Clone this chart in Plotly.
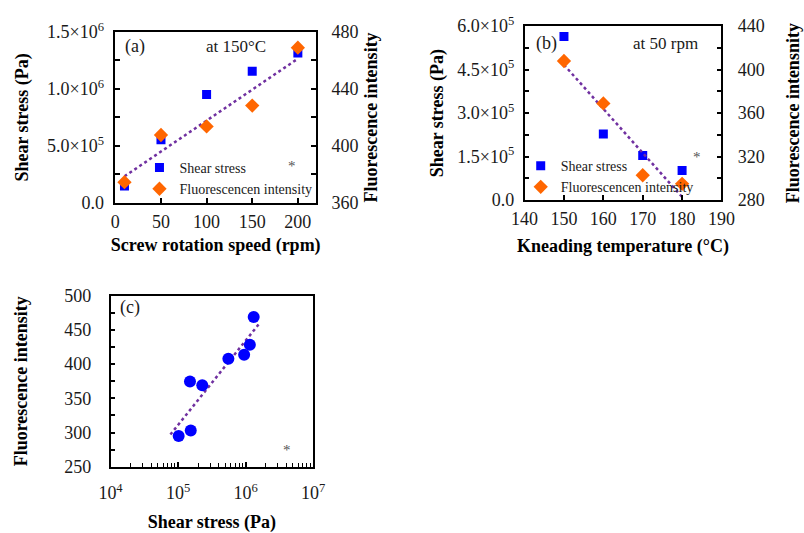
import numpy as np
import plotly.graph_objects as go

# (a) screw rotation speed series at 150 °C
a_speed = [10, 50, 100, 150, 200]
a_shear = [1.50e5, 5.55e5, 9.50e5, 1.154e6, 1.315e6]
a_fluor = [374.6, 407.7, 413.7, 428.3, 468.9]

# (b) kneading temperature series at 50 rpm
b_temp = [150, 160, 170, 180]
b_shear = [5.64e5, 2.28e5, 1.54e5, 1.02e5]
b_fluor = [408.0, 369.0, 302.9, 295.0]

# (c) all conditions pooled (150 °C / 50 rpm counted once)
c_shear = a_shear + b_shear[1:]
c_fluor = a_fluor + b_fluor[1:]
c_trend_span = [7.7e4, 1.6e6]

# tick labels
a_speed_ticks = [0, 50, 100, 150, 200]
a_shear_ticks = [0, 2.5e5, 5e5, 7.5e5, 1e6, 1.25e6, 1.5e6]
a_shear_text = ["0.0", "", "5.0×10<sup>5</sup>", "", "1.0×10<sup>6</sup>", "", "1.5×10<sup>6</sup>"]
a_fluor_ticks = [360, 380, 400, 420, 440, 460, 480]
a_fluor_text = ["360", "", "400", "", "440", "", "480"]
b_temp_ticks = [140, 150, 160, 170, 180, 190]
b_shear_ticks = [0, 7.5e4, 1.5e5, 2.25e5, 3e5, 3.75e5, 4.5e5, 5.25e5, 6e5]
b_shear_text = ["0.0", "", "1.5×10<sup>5</sup>", "", "3.0×10<sup>5</sup>", "",
                "4.5×10<sup>5</sup>", "", "6.0×10<sup>5</sup>"]
b_fluor_ticks = [280, 300, 320, 340, 360, 380, 400, 420, 440]
b_fluor_text = ["280", "", "320", "", "360", "", "400", "", "440"]
c_x_ticks = [1e4, 1e5, 1e6, 1e7]
c_x_text = ["10<sup>4</sup>", "10<sup>5</sup>", "10<sup>6</sup>", "10<sup>7</sup>"]
c_y_ticks = [250, 275, 300, 325, 350, 375, 400, 425, 450, 475, 500]
c_y_text = ["250", "", "300", "", "350", "", "400", "", "450", "", "500"]

BLUE = "#0000FF"
ORANGE = "#FF6600"
PURPLE = "#7030A0"
FONT = "Liberation Serif"
W, H = 804, 533


def px_x(p):
    return p / W


def px_y(p):
    return 1 - p / H


fig = go.Figure()

# ---- panel (a)
fit_a = np.polyfit(a_speed, a_fluor, 1)
xa = np.array([min(a_speed), max(a_speed)])
fig.add_trace(go.Scatter(x=xa, y=np.polyval(fit_a, xa), mode="lines",
                         line=dict(color=PURPLE, width=2.5, dash="dot"),
                         xaxis="x", yaxis="y2", showlegend=False))
fig.add_trace(go.Scatter(x=a_speed, y=a_shear, mode="markers", name="Shear stress",
                         marker=dict(symbol="square", size=9, color=BLUE),
                         xaxis="x", yaxis="y", legend="legend"))
fig.add_trace(go.Scatter(x=a_speed, y=a_fluor, mode="markers", name="Fluorescencen intensity",
                         marker=dict(symbol="diamond", size=11, color=ORANGE),
                         xaxis="x", yaxis="y2", legend="legend"))

# ---- panel (b)
fit_b = np.polyfit(b_temp, b_fluor, 1)
xb = np.array([min(b_temp), max(b_temp)])
fig.add_trace(go.Scatter(x=xb, y=np.polyval(fit_b, xb), mode="lines",
                         line=dict(color=PURPLE, width=2.5, dash="dot"),
                         xaxis="x2", yaxis="y4", showlegend=False))
fig.add_trace(go.Scatter(x=b_temp, y=b_shear, mode="markers", name="Shear stress",
                         marker=dict(symbol="square", size=9, color=BLUE),
                         xaxis="x2", yaxis="y3", legend="legend2"))
fig.add_trace(go.Scatter(x=b_temp, y=b_fluor, mode="markers", name="Fluorescencen intensity",
                         marker=dict(symbol="diamond", size=11, color=ORANGE),
                         xaxis="x2", yaxis="y4", legend="legend2"))

# ---- panel (c): logarithmic fit of intensity against shear stress
fit_c = np.polyfit(np.log10(c_shear), c_fluor, 1)
xc = np.array(c_trend_span)
fig.add_trace(go.Scatter(x=xc, y=np.polyval(fit_c, np.log10(xc)), mode="lines",
                         line=dict(color=PURPLE, width=2.5, dash="dot"),
                         xaxis="x3", yaxis="y5", showlegend=False))
fig.add_trace(go.Scatter(x=c_shear, y=c_fluor, mode="markers",
                         marker=dict(symbol="circle", size=12, color=BLUE),
                         xaxis="x3", yaxis="y5", showlegend=False))

tick_font = dict(family=FONT, size=18, color="#1a1a1a")
title_font = dict(family=FONT, size=18, color="black", weight="bold")
line_style = dict(showline=True, linecolor="black", linewidth=1.5,
                  ticks="inside", ticklen=5, tickwidth=1.5, tickcolor="black",
                  showgrid=False, zeroline=False, tickfont=tick_font)
legend_font = dict(family=FONT, size=14, color="#1a1a1a")

fig.update_layout(
    width=W, height=H,
    margin=dict(l=0, r=0, t=0, b=0),
    paper_bgcolor="white", plot_bgcolor="white",
    font=dict(family=FONT),
    xaxis=dict(domain=[px_x(105), px_x(313)], range=[0, 220], anchor="y",
               tickvals=a_speed_ticks, mirror=True, ticklabelstandoff=2,
               title=dict(text="Screw rotation speed (rpm)", font=title_font, standoff=7),
               **line_style),
    yaxis=dict(domain=[px_y(202), px_y(21)], range=[0, 1.5e6], anchor="x",
               tickvals=a_shear_ticks, ticktext=a_shear_text, ticklabelstandoff=6,
               title=dict(text="Shear stress (Pa)", font=title_font, standoff=14),
               **line_style),
    yaxis2=dict(overlaying="y", side="right", anchor="x", range=[360, 480],
                tickvals=a_fluor_ticks, ticktext=a_fluor_text, ticklabelstandoff=10,
                title=dict(text="Fluorescence intensity", font=title_font, standoff=7),
                **line_style),
    xaxis2=dict(domain=[px_x(529), px_x(733)], range=[140, 190], anchor="y3",
                tickvals=b_temp_ticks, mirror=True, ticklabelstandoff=1,
                title=dict(text="Kneading temperature (°C)", font=title_font, standoff=12),
                **line_style),
    yaxis3=dict(domain=[px_y(199), px_y(15)], range=[0, 6e5], anchor="x2",
                tickvals=b_shear_ticks, ticktext=b_shear_text, ticklabelstandoff=5,
                title=dict(text="Shear stress (Pa)", font=title_font, standoff=9),
                **line_style),
    yaxis4=dict(overlaying="y3", side="right", anchor="x2", range=[280, 440],
                tickvals=b_fluor_ticks, ticktext=b_fluor_text, ticklabelstandoff=11,
                title=dict(text="Fluorescence intensnity", font=title_font, standoff=23),
                **line_style),
    xaxis3=dict(domain=[px_x(100), px_x(310)], type="log", range=[4, 7], anchor="y5",
                tickvals=c_x_ticks, ticktext=c_x_text, mirror=True, ticklabelstandoff=9,
                minor=dict(ticks="inside", ticklen=4, tickwidth=1.2, tickcolor="black", dtick="D1"),
                title=dict(text="Shear stress (Pa)", font=title_font, standoff=17),
                **line_style),
    yaxis5=dict(domain=[px_y(481), px_y(300)], range=[250, 500], anchor="x3",
                tickvals=c_y_ticks, ticktext=c_y_text, mirror=True, ticklabelstandoff=14,
                title=dict(text="Fluorescence intensity", font=title_font, standoff=32),
                **line_style),
    legend=dict(x=px_x(130), y=px_y(148), xanchor="left", yanchor="top",
                bgcolor="rgba(0,0,0,0)", font=legend_font, tracegroupgap=0, itemwidth=30),
    legend2=dict(x=px_x(525), y=px_y(146), xanchor="left", yanchor="top",
                 bgcolor="rgba(0,0,0,0)", font=legend_font, tracegroupgap=0, itemwidth=30),
)

notes = [
    ("(a)", 125, 36, 18, "#1a1a1a"),
    ("at 150°C", 230, 36, 17, "#1a1a1a"),
    ("*", 288, 163, 15, "#555555"),
    ("(b)", 552, 33, 18, "#1a1a1a"),
    ("at 50 rpm", 675, 33, 17, "#1a1a1a"),
    ("*", 708, 153, 15, "#555555"),
    ("(c)", 120, 313, 18, "#1a1a1a"),
    ("*", 283, 463, 15, "#555555"),
]
for text, x, y, size, color in notes:
    fig.add_annotation(text=text, x=px_x(x), y=px_y(y), xref="paper", yref="paper",
                       xanchor="center", yanchor="middle", showarrow=False,
                       font=dict(family=FONT, size=size, color=color))

fig.write_html("out.html")
